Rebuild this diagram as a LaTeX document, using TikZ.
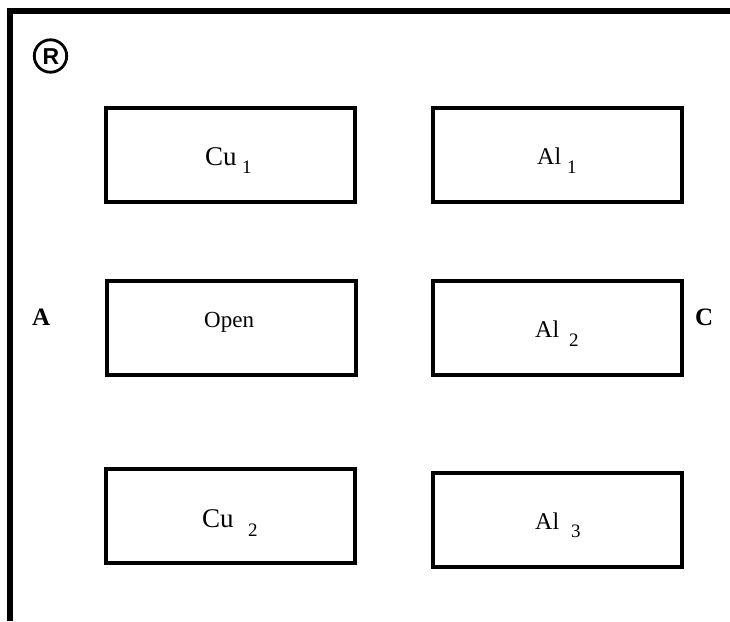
\documentclass[tikz,border=0pt]{standalone}
\usepackage{fontspec}
\setmainfont{Liberation Serif}
\newfontfamily\symfont{Liberation Sans}
\begin{document}
\begin{tikzpicture}[x=1pt,y=-1pt,
  cell/.style={draw,line width=4pt,minimum width=249pt,minimum height=94pt,inner sep=0pt},
  lbl/.style={anchor=base west,inner sep=0pt,font=\fontsize{27}{27}\selectfont},
  albl/.style={anchor=base west,inner sep=0pt,font=\fontsize{24}{24}\selectfont},
  sub/.style={anchor=base west,inner sep=0pt,font=\fontsize{19}{19}\selectfont},
  side/.style={anchor=base west,inner sep=0pt,font=\fontsize{25}{25}\selectfont\bfseries}]
\useasboundingbox (0,0) rectangle (730,621);
% outer frame (open at right and bottom)
\draw[line width=6pt,line join=miter] (10,621) -- (10,11) -- (730,11);
% registered mark
\draw[line width=2.8pt] (50.5,56) circle (16.2);
\node[anchor=base,inner sep=0pt,font=\symfont\bfseries\fontsize{23}{23}\selectfont] (reg) at (51,64.5) {R};
% cells
\node[cell] (cu1) at (230.5,154.5) {};
\node[cell] (al1) at (557.5,155) {};
\node[cell] (open) at (231,328) {};
\node[cell] (al2) at (557.5,328) {};
\node[cell] (cu2) at (230.5,516) {};
\node[cell] (al3) at (557.5,520) {};
% cell labels
\node[lbl] (tcu1) at (205,165) {Cu};
\node[sub] (scu1) at (242,173) {1};
\node[albl] (tal1) at (537,164) {Al};
\node[sub] (sal1) at (567,173) {1};
\node[albl,font=\fontsize{23}{23}\selectfont] (topen) at (204,327) {Open};
\node[albl] (tal2) at (535,337) {Al};
\node[sub] (sal2) at (569,346) {2};
\node[lbl] (tcu2) at (202,527) {Cu};
\node[sub] (scu2) at (248,536) {2};
\node[albl] (tal3) at (535,529) {Al};
\node[sub] (sal3) at (571,537) {3};
% terminal labels
\node[side] (ta) at (32,325) {A};
\node[side] (tc) at (695,325) {C};
\end{tikzpicture}
\end{document}
